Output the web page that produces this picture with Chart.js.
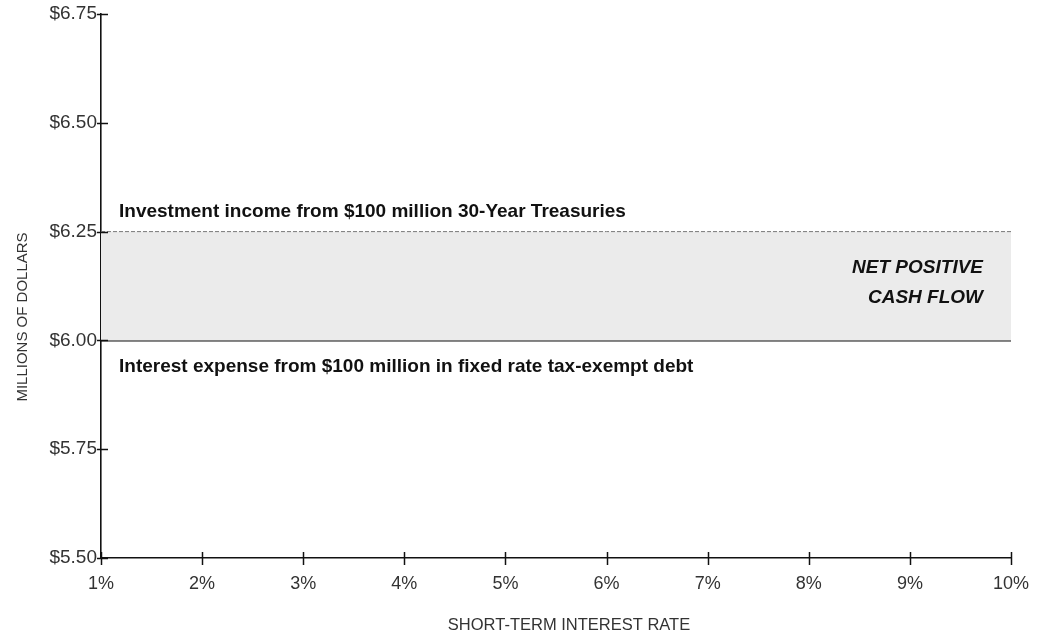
<!DOCTYPE html>
<html>
<head>
<meta charset="utf-8">
<script src="https://cdn.jsdelivr.net/npm/chart.js@4/dist/chart.umd.min.js"></script>
<style>
  html, body { margin: 0; padding: 0; background: #fff; }
  #wrap { width: 1039px; height: 637px; }
</style>
</head>
<body>
<div id="wrap"><canvas id="chart" width="1039" height="637"></canvas></div>
<script>
const rates = [1, 2, 3, 4, 5, 6, 7, 8, 9, 10]; // short-term rate, %
const treasuryIncome = [6.25, 6.25, 6.25, 6.25, 6.25, 6.25, 6.25, 6.25, 6.25, 6.25];
const debtExpense = [6.0, 6.0, 6.0, 6.0, 6.0, 6.0, 6.0, 6.0, 6.0, 6.0];
const yTicks = [5.5, 5.75, 6.0, 6.25, 6.5, 6.75];

const incomeLabel = "Investment income from $100 million 30-Year Treasuries";
const expenseLabel = "Interest expense from $100 million in fixed rate tax-exempt debt";
const netLabel = ["NET POSITIVE", "CASH FLOW"];
const xTitle = "SHORT-TERM INTEREST RATE";
const yTitle = "MILLIONS OF DOLLARS";

const sans = "'Liberation Sans', Arial, sans-serif";

// keep the plot area where layout.padding puts it, labels may overhang
const noEdgePadding = s => {
  s.paddingLeft = s.paddingRight = s.paddingTop = s.paddingBottom = 0;
};

// axis ticks that cross the axis line, axis titles and the text notes
const decorations = {
  id: "decorations",
  afterDraw(chart) {
    const { ctx, scales: { x, y } } = chart;
    ctx.save();
    ctx.strokeStyle = "#111";
    ctx.lineWidth = 1.5;
    rates.forEach(r => {
      const px = Math.round(x.getPixelForValue(r)) + 0.5;
      ctx.beginPath();
      ctx.moveTo(px, y.bottom - 6);
      ctx.lineTo(px, y.bottom + 7);
      ctx.stroke();
    });
    yTicks.forEach(v => {
      const py = Math.round(y.getPixelForValue(v)) + 0.5;
      ctx.beginPath();
      ctx.moveTo(x.left - 4, py);
      ctx.lineTo(x.left + 7, py);
      ctx.stroke();
    });

    // axis titles
    ctx.fillStyle = "#333";
    ctx.textAlign = "center";
    ctx.textBaseline = "alphabetic";
    ctx.font = "16.5px " + sans;
    ctx.fillText(xTitle, (x.left + x.right) / 2 + 13, 630);
    ctx.save();
    ctx.translate(27, (y.top + y.bottom) / 2 + 31);
    ctx.rotate(-Math.PI / 2);
    ctx.font = "15px " + sans;
    ctx.fillText(yTitle, 0, 0);
    ctx.restore();

    // notes on the two lines
    const lx = x.getPixelForValue(rates[0]) + 18;
    ctx.fillStyle = "#111";
    ctx.textAlign = "left";
    ctx.font = "bold 19px " + sans;
    ctx.fillText(incomeLabel, lx, y.getPixelForValue(treasuryIncome[0]) - 15);
    ctx.fillText(expenseLabel, lx, y.getPixelForValue(debtExpense[0]) + 32);

    ctx.font = "italic bold 19px " + sans;
    ctx.textAlign = "right";
    const rx = x.right - 28;
    const top = y.getPixelForValue(treasuryIncome[0]);
    ctx.fillText(netLabel[0], rx, top + 41);
    ctx.fillText(netLabel[1], rx, top + 71);
    ctx.restore();
  }
};

new Chart(document.getElementById("chart"), {
  type: "line",
  data: {
    datasets: [
      {
        data: rates.map((r, i) => ({ x: r, y: treasuryIncome[i] })),
        borderColor: "#7a7a7a",
        borderWidth: 1,
        borderDash: [4, 2],
        pointRadius: 0,
        fill: "+1",
        backgroundColor: "#ebebeb",
      },
      {
        data: rates.map((r, i) => ({ x: r, y: debtExpense[i] })),
        borderColor: "#111",
        borderWidth: 2,
        pointRadius: 0,
        fill: false,
      },
    ],
  },
  options: {
    responsive: false,
    animation: false,
    layout: { padding: { top: 14, right: 28, left: 0, bottom: 0 } },
    plugins: { legend: { display: false }, tooltip: { enabled: false } },
    scales: {
      x: {
        type: "linear",
        min: 1,
        max: 10,
        afterBuildTicks: s => { s.ticks = rates.map(v => ({ value: v })); },
        afterFit: s => { s.height = 79; noEdgePadding(s); },
        grid: { display: true, drawOnChartArea: false, drawTicks: false },
        border: { color: "#111", width: 1.6 },
        ticks: {
          padding: 15,
          color: "#333",
          font: { family: sans, size: 18 },
          callback: v => v + "%",
        },
      },
      y: {
        min: 5.5,
        max: 6.75,
        afterBuildTicks: s => { s.ticks = yTicks.map(v => ({ value: v })); },
        afterFit: s => { s.width = 101; noEdgePadding(s); },
        grid: { display: true, drawOnChartArea: false, drawTicks: false },
        border: { color: "#111", width: 1.6 },
        ticks: {
          padding: 4,
          color: "#333",
          font: { family: sans, size: 19 },
          callback: v => "$" + v.toFixed(2),
        },
      },
    },
  },
  plugins: [decorations],
});
</script>
</body>
</html>
